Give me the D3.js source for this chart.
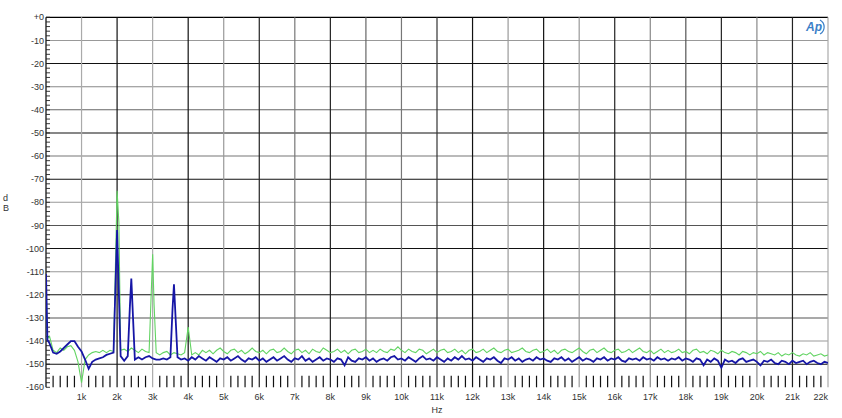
<!DOCTYPE html>
<html><head><meta charset="utf-8">
<script src="https://cdn.jsdelivr.net/npm/d3@7"></script>
<style>
html,body{margin:0;padding:0;background:#fff;}
svg{display:block;font-family:"Liberation Sans",Arial,sans-serif;}
</style></head>
<body><svg id="c" width="842" height="418"></svg>
<script>
// ---- data ----
const stepHz = 100; // noise arrays sampled every 100 Hz from 0 Hz
const greenDb = [
-112,-138,-144,-145,-143,-144,-142.5,-142,-144,-149,
-158,-148,-146,-145,-144.5,-145,-144,-145,-144,-144.5,
-75,-144,-143.5,-144.5,-143,-144,-145,-143.5,-144.5,-145,
-102.5,-145,-146,-145,-144.5,-146,-145,-145.5,-146,-145,
-134,-146,-145,-146,-144,-145,-144,-145.5,-144,-143,
-144.5,-145.5,-144,-143.5,-145,-144,-145.5,-144.5,-143,-144.5,
-145,-144,-145.5,-144,-143.5,-145,-144.5,-143,-144.5,-145.5,
-144,-143.5,-145,-144,-145.5,-143.5,-144.5,-145,-143,-144,
-145,-144.5,-143.5,-145,-144,-145.5,-144,-143.5,-145,-144.5,
-143.5,-145,-144,-145,-143.5,-144.5,-145,-143.5,-144,-142.5,
-144,-145,-143.5,-144.5,-145,-143.5,-144,-145.5,-144.5,-143.5,
-145,-144,-143.5,-145,-144.5,-143.5,-145,-144,-145.5,-144,
-143.5,-145,-144.5,-143.5,-145,-144,-143,-144.5,-145,-144,
-143.5,-145,-144.5,-144,-143,-144.5,-145,-144,-143.5,-145,
-144.5,-143.5,-145,-144,-145.5,-144,-143.5,-144.5,-145,-144,
-143,-144.5,-145.5,-144,-143.5,-145,-144,-143,-144.5,-145,
-144,-143.5,-145,-144.5,-143.5,-145,-144,-143,-144.5,-145,
-144,-145.5,-144.5,-143.5,-145,-144,-145,-144.5,-143.5,-145,
-144.5,-145.5,-144,-143.5,-145,-144.5,-145.5,-144,-144.5,-145.5,
-144,-145,-145.5,-144.5,-145,-146,-144.5,-145,-146,-145,
-145.5,-144.5,-146,-145,-145.5,-146,-145,-146.5,-145.5,-146,
-145,-146,-146.5,-145.5,-146,-145,-146.5,-146,-145.5,-146.5,
-146
];
const blueDb = [
-111,-141,-145,-145.5,-144.5,-143,-141.5,-140,-140,-142.5,
-144.5,-148,-152,-149,-148,-147.5,-147,-146,-145.5,-145,
-92,-146.5,-148.5,-146.5,-113,-148,-147,-148,-147,-146.5,
-147.5,-148,-148,-147.5,-148,-147,-115.5,-147,-148,-147.5,
-148.5,-147,-148,-146.5,-147.5,-148.5,-147,-148,-149,-147.5,
-148,-147,-148.5,-147.5,-146.5,-148,-149,-147.5,-148,-147,
-148.5,-147.5,-149,-148,-147,-148.5,-147.5,-146.5,-148,-149,
-147.5,-148,-146.5,-148.5,-147.5,-149,-148,-147,-148.5,-147.5,
-148,-149,-147.5,-148,-150.5,-147,-148.5,-149,-147.5,-148,
-147,-148.5,-147.5,-149,-148,-147.5,-148.5,-147,-146.5,-148,
-147.5,-148.5,-147,-148,-149,-147.5,-146.5,-148,-147.5,-148.5,
-147,-148,-149,-147.5,-148.5,-147,-148,-146.5,-148,-147.5,
-148.5,-147,-148,-149,-147.5,-148,-147,-148.5,-149.5,-147.5,
-148,-147,-148.5,-147.5,-149,-148,-147.5,-148.5,-147,-148,
-147.5,-148.5,-149,-147.5,-148,-147,-148.5,-147.5,-149,-148,
-147,-148.5,-147.5,-148,-149,-147.5,-148,-147,-148.5,-147.5,
-148,-147,-148.5,-149,-147.5,-148,-147.5,-148.5,-147,-148,
-147.5,-148.5,-147,-148,-147.5,-148.5,-147.5,-148,-147,-148.5,
-147.5,-148,-149,-147.5,-148,-150.5,-148,-149,-147.5,-148.5,
-151.5,-148,-149,-148.5,-149.5,-148,-147.5,-149,-148.5,-148,
-149,-150.5,-148.5,-149,-148,-149.5,-150,-148.5,-149,-150,
-148.5,-149.5,-149,-148.5,-150,-149,-148.5,-149.5,-150,-149,
-149.5
];
// extra off-grid points (Hz, dB)
const greenExtraHz = [40, 2050, 3040];
const greenExtraDb = [-139, -88.5, -124];
const blueExtraHz = [40, 2360, 3560];
const blueExtraDb = [-139.5, -125, -126];

const yTicks = [0,-10,-20,-30,-40,-50,-60,-70,-80,-90,-100,-110,-120,-130,-140,-150,-160];
const yTickLabels = ["+0","-10","-20","-30","-40","-50","-60","-70","-80","-90","-100","-110","-120","-130","-140","-150","-160"];
const xTicks = [1000,2000,3000,4000,5000,6000,7000,8000,9000,10000,11000,12000,13000,14000,15000,16000,17000,18000,19000,20000,21000,22000];
const xTickLabels = ["1k","2k","3k","4k","5k","6k","7k","8k","9k","10k","11k","12k","13k","14k","15k","16k","17k","18k","19k","20k","21k","22k"];

// ---- styles ----
const hGridColor = ["#000","#999","#111","#888","#666","#111","#777","#111","#999","#555","#111","#999","#111","#555","#999","#111"];
const vGridColor = ["#aaa","#111","#aaa","#111","#999","#222","#777","#222","#666","#777","#333","#111","#999","#111","#999","#222","#888","#555","#222","#888","#222","#aaa"];

const svg = d3.select("#c");
const L = 46, R = 828, T = 17.3, B = 387.3;
const x = d3.scaleLinear().domain([0, 22000]).range([L, R]);
const y = d3.scaleLinear().domain([0, -160]).range([T, B]);

function build(db, exHz, exDb){
  const pts = db.map((v,i)=>[i*stepHz, v]);
  exHz.forEach((h,i)=>pts.push([h, exDb[i]]));
  pts.sort((a,b)=>a[0]-b[0]);
  return pts;
}
const green = build(greenDb, greenExtraHz, greenExtraDb);
const blue = build(blueDb, blueExtraHz, blueExtraDb);

// horizontal grid lines (0 .. -150)
yTicks.slice(0,16).forEach((v,i)=>{
  svg.append("line").attr("x1",L).attr("x2",R).attr("y1",y(v)).attr("y2",y(v))
    .attr("stroke",hGridColor[i]).attr("stroke-width",i===0?1.3:1.1);
});
// vertical grid lines
xTicks.forEach((v,i)=>{
  svg.append("line").attr("x1",x(v)).attr("x2",x(v)).attr("y1",T).attr("y2",B)
    .attr("stroke",vGridColor[i]).attr("stroke-width",1.2);
});
// left axis line
svg.append("line").attr("x1",L).attr("x2",L).attr("y1",T).attr("y2",B).attr("stroke","#000").attr("stroke-width",1.2);

// left minor ticks every 2 dB
d3.range(0,-161,-2).forEach(v=>{
  svg.append("line").attr("x1",L).attr("x2",L+4).attr("y1",y(v)).attr("y2",y(v))
    .attr("stroke","#222").attr("stroke-width",0.9);
});
// bottom minor ticks every 200 Hz
d3.range(200,22000,200).forEach(v=>{
  if (v % 1000 === 0) return;
  svg.append("line").attr("x1",x(v)).attr("x2",x(v)).attr("y1",y(-155)).attr("y2",B)
    .attr("stroke","#111").attr("stroke-width",1.2);
});

// y labels
yTicks.forEach((v,i)=>{
  svg.append("text").attr("x",L-2).attr("y",y(v)).attr("dy","0.35em")
    .attr("text-anchor","end").attr("font-size",9).attr("fill","#333").text(yTickLabels[i]);
});
// x labels
xTicks.forEach((v,i)=>{
  const last = i===xTicks.length-1;
  svg.append("text").attr("x",last?R:x(v)).attr("y",397).attr("dy","0.35em")
    .attr("text-anchor",last?"end":"middle").attr("font-size",9).attr("fill","#333").text(xTickLabels[i]);
});
svg.append("text").attr("x",437).attr("y",410).attr("dy","0.35em").attr("text-anchor","middle")
  .attr("font-size",9).attr("fill","#333").text("Hz");
svg.append("text").attr("x",3).attr("y",197.5).attr("dy","0.35em").attr("font-size",9).attr("fill","#333").text("d");
svg.append("text").attr("x",3).attr("y",208).attr("dy","0.35em").attr("font-size",9).attr("fill","#333").text("B");

// clip
svg.append("clipPath").attr("id","clip").append("rect").attr("x",L).attr("y",T).attr("width",R-L).attr("height",B-T);
const line = d3.line().x(d=>x(d[0])).y(d=>y(d[1]));
const g = svg.append("g").attr("clip-path","url(#clip)");
g.append("path").datum(green).attr("d",line).attr("fill","none").attr("stroke","#62d462").attr("stroke-width",1.1);
g.append("path").datum(blue).attr("d",line).attr("fill","none").attr("stroke","#1616a6").attr("stroke-width",1.8);

// Ap logo
svg.append("text").attr("x",806).attr("y",31).attr("font-size",12).attr("font-style","italic")
  .attr("fill","#3b7fc8").attr("font-weight","bold").text("Ap");
svg.append("path").attr("d","M820,20 A8,8 0 0 1 820,34").attr("fill","none").attr("stroke","#3b7fc8").attr("stroke-width",1.2);
</script></body></html>
